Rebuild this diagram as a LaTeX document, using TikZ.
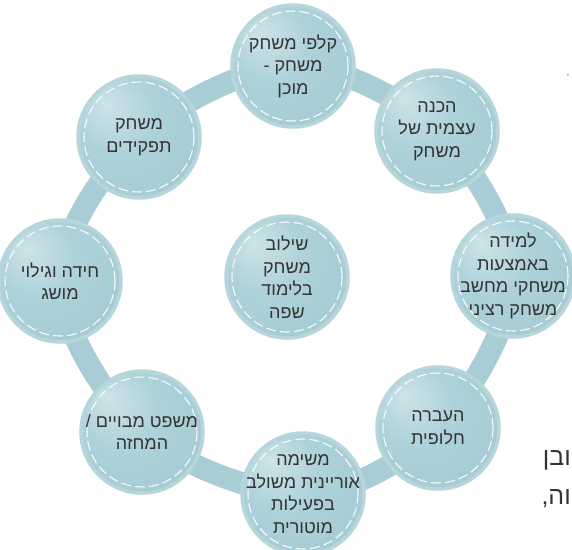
\documentclass[tikz,border=0pt]{standalone}
\usepackage{fontspec}
\setmainfont{Liberation Sans}
\newfontfamily\heb[Script=Hebrew]{Liberation Sans}
\TeXXeTstate=1
\usetikzlibrary{backgrounds}
\definecolor{ringc}{HTML}{A9CDD4}
\definecolor{rimc}{HTML}{B6D6DC}
\definecolor{btnA}{HTML}{CDE4E9}
\definecolor{btnB}{HTML}{AED2D9}
\definecolor{btnC}{HTML}{A3C9D1}
\definecolor{btnD}{HTML}{84AEB8}
\definecolor{txt}{HTML}{333333}
\pgfdeclareradialshading{btnshade}{\pgfpoint{-14bp}{14bp}}{color(0bp)=(btnA); color(16bp)=(btnB); color(38bp)=(btnC); color(50bp)=(btnD)}
\newcommand{\hl}[1]{\beginR #1\endR}
\tikzset{
  btn/.style={circle, minimum size=122pt, inner sep=-30pt, shading=btnshade,
    draw=rimc, line width=3.5pt, text=txt, align=center,
    font=\heb\fontsize{18}{22.5}\selectfont,
    path picture={\draw[white, opacity=0.9, line width=1.1pt, dash pattern=on 10pt off 4pt]
      (path picture bounding box.center) circle (55pt);}},
  ringline/.style={draw=ringc, line width=22pt},
  frag/.style={text=txt, font=\heb\fontsize{25}{28}\selectfont, inner sep=0pt}
}
\begin{document}
\begin{tikzpicture}[x=1pt,y=-1pt]
\useasboundingbox (0,0) rectangle (572,549);
\clip (0,0) rectangle (572,549);
\node[btn] (n1) at (293,66) {\hl{קלפי משחק}\\\hl{משחק -}\\\hl{מוכן}};
\node[btn] (n2) at (437,131) {\hl{הכנה}\\\hl{עצמית של}\\\hl{משחק}};
\node[btn] (n3) at (513,276) {\hl{למידה}\\\hl{באמצעות}\\\hl{משחקי מחשב}\\\hl{משחק רציני}};
\node[btn] (n4) at (438,428) {\hl{העברה}\\\hl{חלופית}};
\node[btn] (n5) at (303,494) {\hl{משימה}\\\hl{אוריינית משולב}\\\hl{בפעילות}\\\hl{מוטורית}};
\node[btn] (n6) at (142,432) {\hl{משפט מבויים /}\\\hl{המחזה}};
\node[btn] (n7) at (60,281) {\hl{חידה וגילוי}\\\hl{מושג}};
\node[btn] (n8) at (139,137) {\hl{משחק}\\\hl{תפקידים}};
\node[btn] (c0) at (287,277) {\hl{שילוב}\\\hl{משחק}\\\hl{בלימוד}\\\hl{שפה}};
\begin{scope}[on background layer]
\draw[ringline] plot[smooth cycle, tension=0.55] coordinates {(n1.center) (n2.center) (n3.center) (n4.center) (n5.center) (n6.center) (n7.center) (n8.center)};
\end{scope}
\node[frag, anchor=base east] (f1) at (571,465) {\hl{ובן}};
\node[frag, anchor=base east] (f2) at (571,504) {\hl{וה,}};
\node[text=txt, font=\fontsize{8}{8}\selectfont, inner sep=0pt] (f3) at (568,76) {-};
\end{tikzpicture}
\end{document}
